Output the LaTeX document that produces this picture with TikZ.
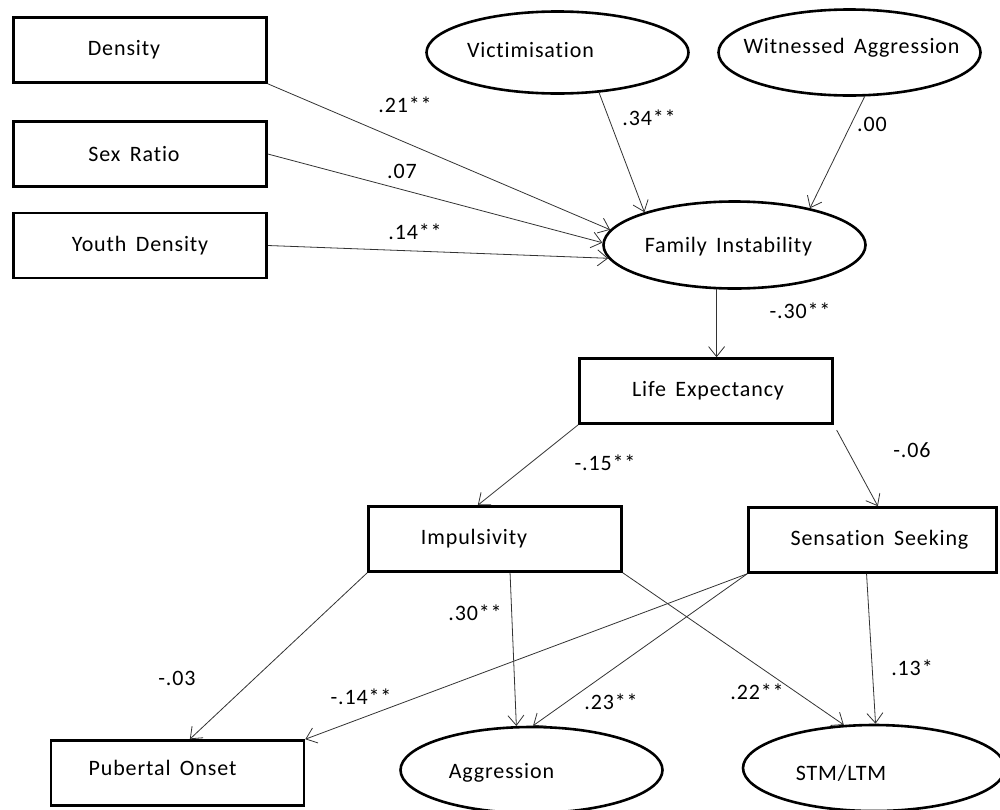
\documentclass[tikz,border=0pt]{standalone}
\usepackage{fontspec}
\setmainfont{Carlito}[LetterSpace=4.0,WordSpace=1.6,Ligatures=NoCommon]
\usetikzlibrary{arrows.meta,shapes.geometric}
\tikzset{
	varbox/.style={draw, rectangle, line width=2.6pt, minimum width=253, minimum height=65, inner sep=0pt},
	latent/.style={draw, ellipse, line width=2.6pt, minimum width=262, minimum height=86, inner sep=0pt},
	effect/.style={draw=black!80, line width=0.8pt, -{Straight Barb[length=10pt,width=16pt]}},
	every node/.style={font=\fontsize{22}{26}\selectfont}
}

\begin{document}
\begin{tikzpicture}[x=1pt,y=-1pt]
\useasboundingbox (0,0) rectangle (1000,809);
% Exogenous variables
\node[varbox, label={[xshift=-16]center:Density}] (dens) at (140,50) {};
\node[varbox, label={[xshift=-6]center:Sex Ratio}] (sexr) at (140,154) {};
\node[varbox, label={center:Youth Density}] (youth) at (140,245.5) {};
\node[latent, minimum height=82, label={[xshift=-27,yshift=2]center:Victimisation}] (vict) at (557.5,52.5) {};
\node[latent, label={[xshift=2,yshift=5]center:Witnessed Aggression}] (witn) at (849.5,52.5) {};
% Mediators
\node[latent, minimum height=87, label={[xshift=-6,yshift=-2]center:Family Instability}] (fam) at (734.5,245) {};
\node[varbox, label={[xshift=2]center:Life Expectancy}] (life) at (706,391) {};
\node[varbox, label={[xshift=-21]center:Impulsivity}] (imp) at (495,539) {};
\node[varbox, minimum width=248, label={[xshift=7]center:Sensation Seeking}] (sens) at (872.5,540) {};
% Outcomes
\node[varbox, label={[xshift=-15,yshift=5]center:Pubertal Onset}] (pub) at (177.5,773) {};
\node[latent, label={[xshift=-30,yshift=-3]center:Aggression}] (aggr) at (531.5,770) {};
\node[latent, label={[xshift=-33,yshift=-5]center:STM/LTM}] (stm) at (874,768) {};
% Paths
\draw[effect] (dens.south east) -- (fam.173);
\draw[effect] (sexr.east) -- (fam.179);
\draw[effect] (youth.east) -- (fam.186);
\draw[effect] (vict.316) -- (fam.160);
\draw[effect] (witn.289) -- (fam.26);
\draw[effect] (fam.248) -- (fam.248 |- life.north);
\draw[effect] (life.south west) -- (imp.117);
\draw[effect, shorten <=6pt] (life.south east) -- (sens.81);
\draw[effect] (imp.south west) -- (pub.70);
\draw[effect] (sens.south west) -- (pub.north east);
\draw[effect] (imp.294) -- (aggr.109);
\draw[effect] (sens.south west) -- (aggr.88);
\draw[effect] (imp.south east) -- (stm.125);
\draw[effect] (sens.260) -- (stm.88);
% Coefficients
\node (c1) at (405,105) {.21**};
\node (c2) at (402,171) {.07};
\node (c3) at (415,232) {.14**};
\node (c4) at (649,118) {.34**};
\node (c5) at (872,124) {.00};
\node (c6) at (800,311) {-.30**};
\node (c7) at (605,463) {-.15**};
\node (c8) at (912,450) {-.06};
\node (c9) at (177,678) {-.03};
\node (c10) at (361,697) {-.14**};
\node (c11) at (475,613) {.30**};
\node (c12) at (611,702) {.23**};
\node (c13) at (757,692) {.22**};
\node (c14) at (912,668) {.13*};
\end{tikzpicture}
\end{document}
